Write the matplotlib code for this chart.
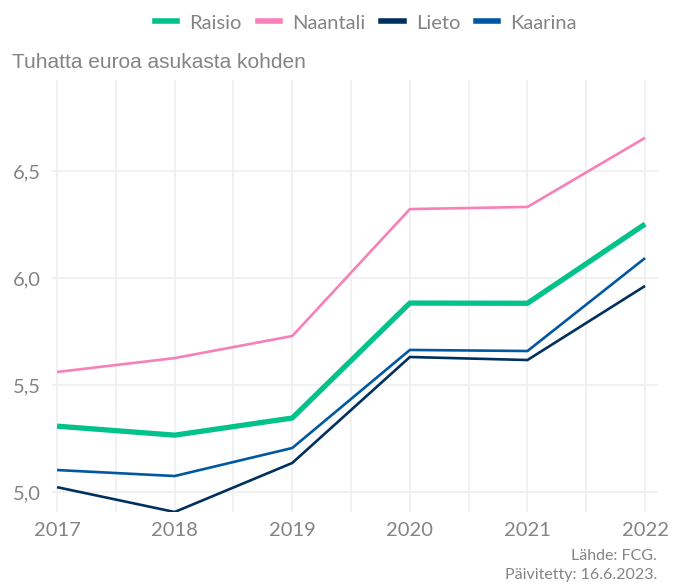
import matplotlib
matplotlib.use("Agg")
import matplotlib.pyplot as plt
from matplotlib.lines import Line2D
from matplotlib.ticker import FuncFormatter, MultipleLocator

years = [2017, 2018, 2019, 2020, 2021, 2022]
raisio = [5.308, 5.266, 5.346, 5.883, 5.882, 6.252]
naantali = [5.561, 5.626, 5.729, 6.322, 6.332, 6.655]
lieto = [5.023, 4.907, 5.136, 5.631, 5.617, 5.963]
kaarina = [5.103, 5.075, 5.206, 5.664, 5.659, 6.093]

series_names = ["Raisio", "Naantali", "Lieto", "Kaarina"]
series_values = [raisio, naantali, lieto, kaarina]
colors = ["#00c28a", "#f780b8", "#00305e", "#0058a3"]
widths = [3.8, 1.9, 1.9, 1.9]

y_ticks = [5.0, 5.5, 6.0, 6.5]

text_gray = "#848484"
grid_gray = "#f0f0f0"
tick_font = ["Lato", "DejaVu Sans"]

fig = plt.figure(figsize=(6.83, 5.86), dpi=100)
ax = fig.add_axes([52 / 683, 1 - 512 / 586, (658 - 52) / 683, (512 - 80) / 586])

# draw lines in reverse so Raisio sits on top
for name, vals, c, lw in reversed(list(zip(series_names, series_values, colors, widths))):
    ax.plot(years, vals, color=c, lw=lw, solid_capstyle="butt", zorder=3)

ax.set_xlim(2016.957, 2022.11)
ax.set_ylim(4.907, 6.925)

ax.set_xticks(years)
ax.xaxis.set_minor_locator(MultipleLocator(0.5))
ax.set_yticks(y_ticks)
ax.yaxis.set_major_formatter(FuncFormatter(lambda v, p: f"{v:.1f}".replace(".", ",")))

ax.grid(True, which="major", axis="both", color=grid_gray, lw=1.3, zorder=0)
ax.grid(True, which="minor", axis="x", color=grid_gray, lw=1.3, zorder=0)
for s in ax.spines.values():
    s.set_visible(False)
ax.tick_params(which="both", length=0)
ax.tick_params(axis="x", pad=7)
ax.tick_params(axis="y", pad=8)
for lab in ax.get_xticklabels() + ax.get_yticklabels():
    lab.set_family(tick_font)
    lab.set_fontsize(14.5)
    lab.set_color(text_gray)

handles = [Line2D([0], [0], color=c, lw=4) for c in colors]
leg = fig.legend(handles, series_names, loc="center", bbox_to_anchor=(366 / 683, 1 - 23 / 586),
                 ncol=4, frameon=False, handlelength=1.1, handletextpad=0.6, columnspacing=0.8,
                 prop={"family": tick_font, "size": 14.5})
for t in leg.get_texts():
    t.set_color(text_gray)

fig.text(12 / 683, 1 - 63 / 586, "Tuhatta euroa asukasta kohden", family=["Liberation Sans", "DejaVu Sans"],
         fontsize=15, color=text_gray, ha="left", va="center")

fig.text(657 / 683, 1 - 556 / 586, "Lähde: FCG.", family=tick_font, fontsize=11.5,
         color=text_gray, ha="right", va="center")
fig.text(657 / 683, 1 - 575 / 586, "Päivitetty: 16.6.2023.", family=tick_font, fontsize=11.5,
         color=text_gray, ha="right", va="center")

fig.savefig("out.png", dpi=100, facecolor="white")
